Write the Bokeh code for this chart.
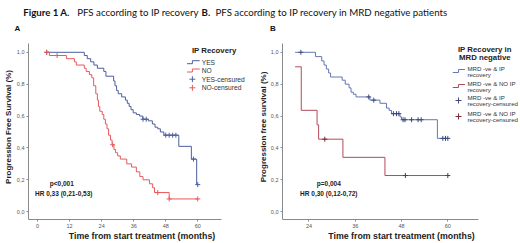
import numpy as np
from bokeh.plotting import figure
from bokeh.models import Range1d, Label, FixedTicker
from bokeh.layouts import column, row
from bokeh.embed import file_html
from bokeh.resources import INLINE

# ---------------- data ----------------
# Panel A : PFS according to IP recovery
a_yes_t = [3.4, 17.5, 18.6, 19.9, 21.1, 22.4, 24.8, 25.6, 28.5, 29.0, 29.6, 30.2, 31.5, 32.9,
           33.6, 34.3, 35.0, 35.8, 37.0, 38.2, 39.4, 41.5, 43.0, 44.0, 45.0, 46.0, 47.3, 52.9,
           57.6, 59.6]
a_yes_s = [1.0, 0.98, 0.96, 0.94, 0.92, 0.90, 0.88, 0.85, 0.82, 0.79, 0.76, 0.74, 0.72, 0.70,
           0.68, 0.66, 0.64, 0.62, 0.61, 0.60, 0.58, 0.57, 0.55, 0.53, 0.52, 0.50, 0.48, 0.41,
           0.33, 0.17]
a_yes_end = 60.0
a_yes_cens = [3.4, 39.5, 40.7, 48.0, 49.3, 50.6, 51.8, 58.4, 60.0]

a_no_t = [3.4, 4.4, 10.8, 13.8, 14.5, 17.5, 18.2, 19.4, 20.3, 21.0, 21.8, 22.4, 22.8, 23.3,
          24.2, 24.8, 25.4, 26.0, 26.6, 27.3, 27.9, 28.6, 29.2, 30.0, 31.0, 33.4, 35.2, 37.0,
          38.3, 39.5, 41.9, 43.1, 43.8, 49.3]
a_no_s = [1.0, 0.98, 0.96, 0.94, 0.92, 0.90, 0.88, 0.86, 0.84, 0.79, 0.74, 0.70, 0.66, 0.63,
          0.61, 0.58, 0.55, 0.52, 0.48, 0.45, 0.42, 0.39, 0.37, 0.35, 0.33, 0.30, 0.28, 0.25,
          0.22, 0.20, 0.175, 0.15, 0.12, 0.08]
a_no_end = 60.0
a_no_cens = [3.4, 7.3, 28.1, 45.0, 49.3, 60.0]

# Panel B : PFS according to IP recovery in MRD negative patients
b_yes_t = [20.4, 25.7, 27.3, 27.9, 28.5, 29.1, 29.6, 32.6, 33.4, 34.4, 34.9, 35.5, 36.2, 39.8,
           42.4, 44.1, 44.8, 45.4, 47.6, 48.0, 57.3]
b_yes_s = [1.0, 0.973, 0.946, 0.92, 0.895, 0.87, 0.845, 0.825, 0.80, 0.777, 0.75, 0.737, 0.72,
           0.70, 0.68, 0.65, 0.635, 0.615, 0.595, 0.577, 0.46]
b_yes_end = 60.0
b_yes_cens = [21.9, 39.5, 40.8, 45.9, 46.7, 47.3, 48.4, 48.9, 50.6, 52.3, 53.1, 58.7, 59.4, 60.0]

b_no_t = [20.4, 22.0, 26.1, 26.5, 32.8, 43.7]
b_no_s = [0.909, 0.636, 0.545, 0.455, 0.341, 0.227]
b_no_end = 60.0
b_no_cens = [28.1, 49.0, 60.0]

x_ticks_a = [0, 12, 24, 36, 48, 60]
x_ticks_b = [24, 36, 48, 60]
y_ticks = [0.0, 0.2, 0.4, 0.6, 0.8, 1.0]
y_tick_labels = ["0,0", "0,2", "0,4", "0,6", "0,8", "1,0"]

# ---------------- style ----------------
A_BLUE, A_RED = "#4d5e9e", "#e65a5c"
B_BLUE, B_RED = "#6577b2", "#b4495a"
AX = "#8a8a8a"
TXT = "#333333"
FONT = "Liberation Sans"
TOP = 34  # height of the heading strip

# page-pixel -> data helpers (frame geometry fixed below)
def ax_(px): return (px - 32.3) / 2.728
def bx_(px): return 24 + (px - 306.7) / 3.889
def y_(py): return (211.2 - py) / 159.4

def level(ts, ss, c):
    i = int(np.searchsorted(ts, c, side="right")) - 1
    return ss[max(i, 0)]

def make_panel(width, x0, fl, axis_right, xconv, ticks, ylab, ylab_standoff):
    p = figure(width=width, height=243 - TOP, output_backend="svg", toolbar_location=None,
               min_border_left=fl, min_border_right=0, min_border_top=0, min_border_bottom=24,
               x_range=Range1d(xconv(x0 + fl), xconv(x0 + width)),
               y_range=Range1d(y_(219), y_(TOP)),
               outline_line_color=None, background_fill_color="white", border_fill_color="white")
    p.grid.visible = False
    for ax in (p.xaxis, p.yaxis):
        ax.axis_line_color = AX
        ax.major_tick_line_color = AX
        ax.minor_tick_line_color = None
        ax.major_tick_out = 2
        ax.major_tick_in = 0
        ax.major_label_text_font = FONT
        ax.major_label_text_font_size = "5.5px"
        ax.major_label_text_color = "#555555"
        ax.major_label_standoff = 2
        ax.axis_label_text_font = FONT
        ax.axis_label_text_font_style = "bold"
        ax.axis_label_text_color = "#222222"
    p.xaxis.bounds = (xconv(x0 + fl), xconv(axis_right))
    p.yaxis.bounds = (y_(219), y_(43))
    p.xaxis.ticker = FixedTicker(ticks=ticks)
    p.yaxis.ticker = FixedTicker(ticks=y_ticks)
    p.yaxis.major_label_overrides = {t: l for t, l in zip(y_ticks, y_tick_labels)}
    p.xaxis.axis_label = "Time from start treatment (months)"
    p.xaxis.axis_label_text_font_size = "8.8px"
    p.xaxis.axis_label_standoff = 0
    p.yaxis.axis_label = ylab
    p.yaxis.axis_label_text_font_size = "8px"
    p.yaxis.axis_label_standoff = ylab_standoff
    return p

def add_text(p, x, y, text, size, bold=False, align="left", color=TXT, angle=0.0, baseline="middle", font=FONT):
    p.add_layout(Label(x=x, y=y, text=text, text_font=font, text_font_size=size,
                       text_font_style="bold" if bold else "normal", text_color=color,
                       text_align=align, text_baseline=baseline, angle=angle))

def km(p, ts, ss, end, cens, color, ccolor):
    xs = list(ts) + [end]
    ys = list(ss) + [ss[-1]]
    p.step(xs, ys, mode="after", line_color=color, line_width=1)
    cy = [level(ts, ss, c) for c in cens]
    p.scatter(cens, cy, marker="cross", size=5, line_color=ccolor, line_width=1)

# ---------------- heading strip ----------------
pt = figure(width=520, height=TOP, output_backend="svg", toolbar_location=None,
            x_range=Range1d(0, 520), y_range=Range1d(TOP, 0), x_axis_type=None, y_axis_type=None,
            min_border=0, outline_line_color=None)
pt.grid.visible = False
for x, t, b in [(22.7, "Figure 1 A.", True), (76.7, "PFS according to IP recovery", False),
                (201, "B.", True), (215, "PFS according to IP recovery in MRD negative patients", False)]:
    add_text(pt, x, 11.8, t, "9.7px", bold=b, color="#111111", baseline="alphabetic", font="Lato")
add_text(pt, 14, 28, "A", "8px", bold=True, color="#111111")
add_text(pt, 269.5, 28, "B", "8px", bold=True, color="#111111")

# ---------------- panel A ----------------
pa = make_panel(255, 0, 23, 220, ax_, x_ticks_a, "Progression Free Survival (%)", 1)
km(pa, a_yes_t, a_yes_s, a_yes_end, a_yes_cens, A_BLUE, A_BLUE)
km(pa, a_no_t, a_no_s, a_no_end, a_no_cens, A_RED, A_RED)
add_text(pa, ax_(57), y_(183.3), "p<0,001", "6.5px", bold=True, align="center", color="#222222")
add_text(pa, ax_(59), y_(192.7), "HR 0,33 (0,21-0,53)", "6.5px", bold=True, align="center", color="#222222")
# legend A
add_text(pa, ax_(190), y_(50), "IP Recovery", "7.8px", bold=True, color="#222222")
for yy, lab, col, kind in [(61.7, "YES", A_BLUE, "line"), (70, "NO", A_RED, "line"),
                           (78.7, "YES-censured", A_BLUE, "cross"), (87.3, "NO-censured", A_RED, "cross")]:
    if kind == "line":
        pa.step([ax_(185), ax_(190.5), ax_(198)], [y_(yy + 1.5), y_(yy - 1.5), y_(yy - 1.5)],
                mode="after", line_color=col, line_width=1)
    else:
        pa.scatter([ax_(190.5)], [y_(yy)], marker="cross", size=6, line_color=col, line_width=1)
    add_text(pa, ax_(200), y_(yy), lab, "6.7px", color=TXT)

# ---------------- panel B ----------------
pb = make_panel(265, 255, 25, 478, bx_, x_ticks_b, "Progression free survival (%)", 0)
km(pb, b_yes_t, b_yes_s, b_yes_end, b_yes_cens, B_BLUE, "#3d4a80")
km(pb, b_no_t, b_no_s, b_no_end, b_no_cens, B_RED, "#7a2a35")
add_text(pb, bx_(326.7), y_(183.3), "p=0,004", "6.5px", bold=True, align="center", color="#222222")
add_text(pb, bx_(326.7), y_(193), "HR 0,30 (0,12-0,72)", "6.5px", bold=True, align="center", color="#222222")
# legend B
add_text(pb, bx_(484), y_(49.3), "IP Recovery in", "7.8px", bold=True, align="center", color="#222222")
add_text(pb, bx_(484), y_(56.9), "MRD negative", "7.8px", bold=True, align="center", color="#222222")
for y1, y2, ys, l1, l2, col, kind in [
        (68.0, 74.2, 70.5, "MRD -ve & IP", "recovery", B_BLUE, "line"),
        (83.0, 89.2, 85.5, "MRD -ve & NO IP", "recovery", B_RED, "line"),
        (97.0, 103.2, 100.0, "MRD -ve & IP", "recovery-censured", "#3d4a80", "cross"),
        (113.0, 119.2, 116.0, "MRD -ve & NO IP", "recovery-censured", "#7a2a35", "cross")]:
    if kind == "line":
        pb.step([bx_(451.7), bx_(457.5), bx_(464)], [y_(ys + 1.5), y_(ys - 1.5), y_(ys - 1.5)],
                mode="after", line_color=col, line_width=1)
    else:
        pb.scatter([bx_(457.5)], [y_(ys)], marker="cross", size=6, line_color=col, line_width=1)
    add_text(pb, bx_(466.5), y_(y1), l1, "6.1px", color=TXT)
    add_text(pb, bx_(466.5), y_(y2), l2, "6.1px", color=TXT)

layout = column(pt, row(pa, pb, spacing=0), spacing=0)
open("out.html", "w").write(file_html(layout, INLINE))
